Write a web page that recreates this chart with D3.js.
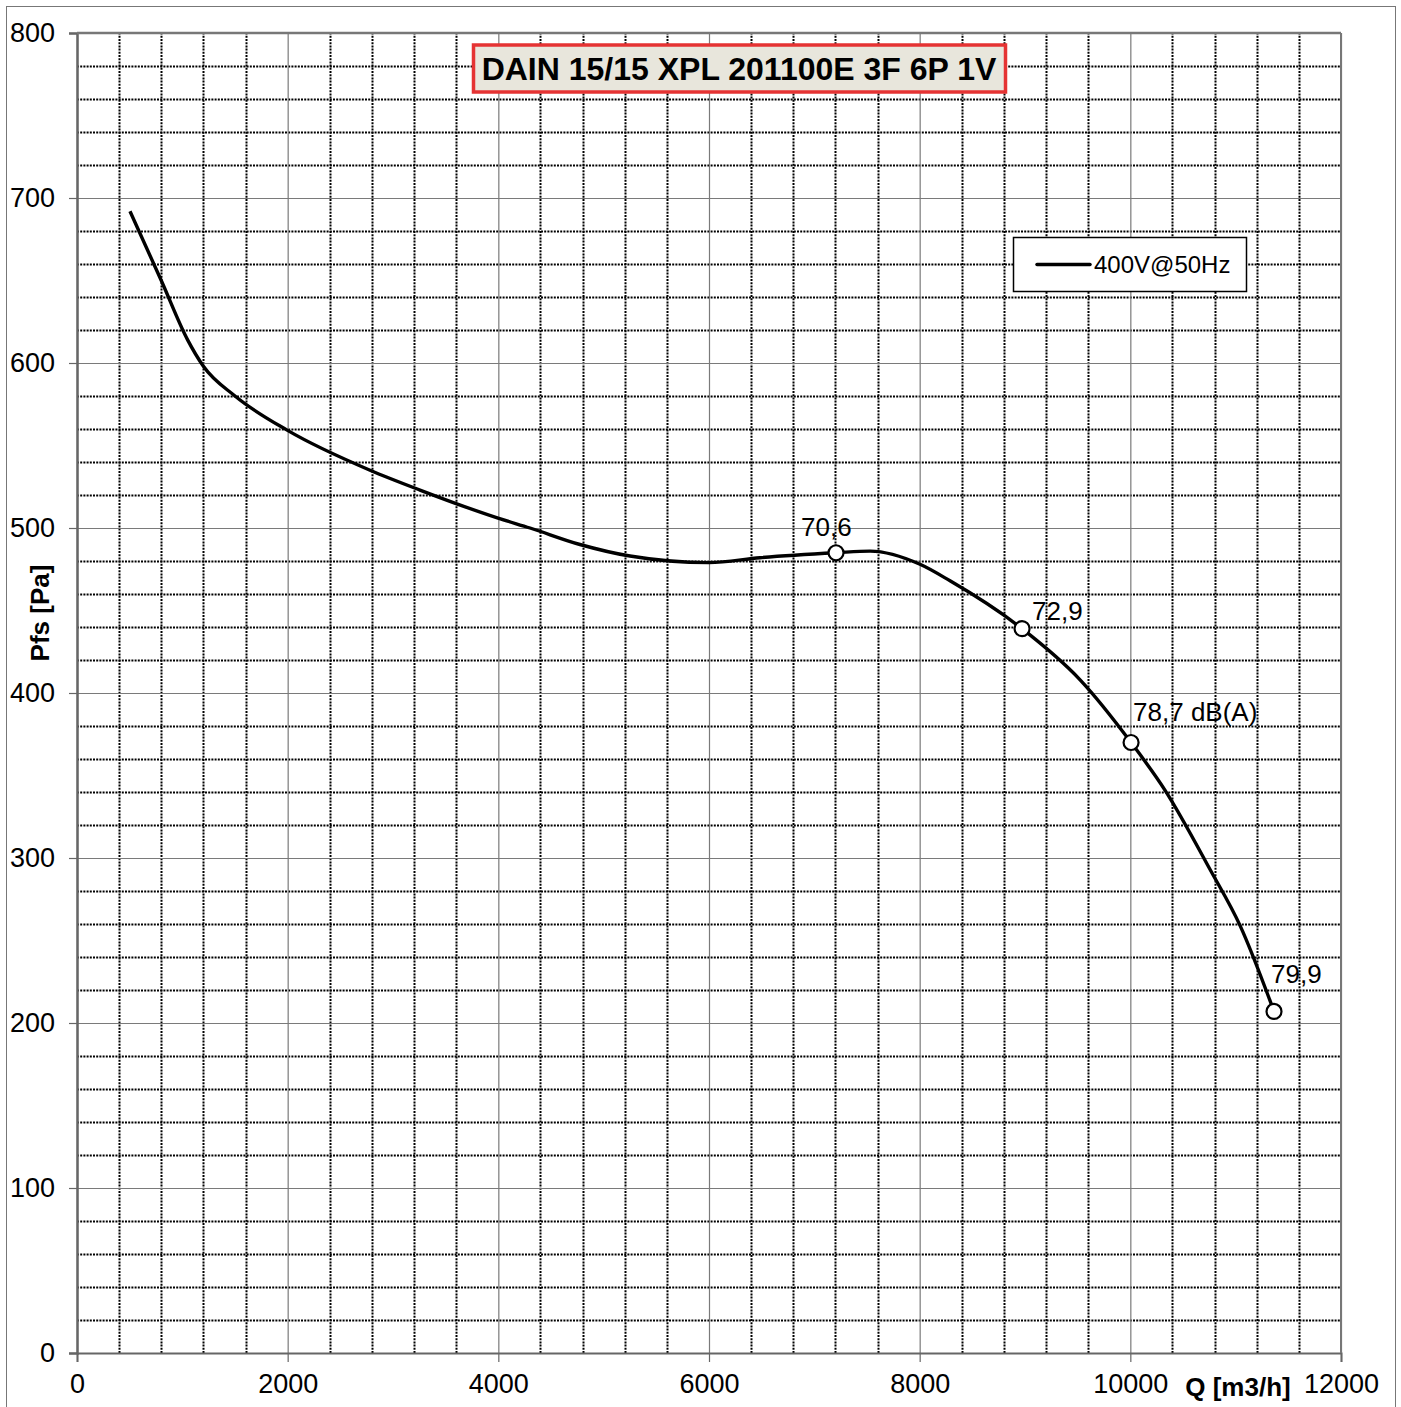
<!DOCTYPE html>
<html>
<head>
<meta charset="utf-8">
<script src="https://cdn.jsdelivr.net/npm/d3@7"></script>
<style>
  body { margin: 0; background: #fff; }
  svg text { font-family: "Liberation Sans", Arial, sans-serif; }
</style>
</head>
<body>
<div id="chart"></div>
<script>
// curve points: flow Q [m3/h] and pressure Pfs [Pa]
const flowQ = [503, 800, 1050, 1200, 1500, 2003, 2782, 3256, 3997, 4301, 4775, 5250, 6000, 6484, 7206, 7529, 8003, 8288, 8972, 9523, 10007, 10330, 10757, 11042, 11364];
const pressure = [692, 650, 614, 598, 580, 559, 535, 523, 506, 500, 490, 483, 479, 482, 485, 486, 478, 468, 439, 408, 370, 341, 293, 259, 207];

// noise markers
const markerQ = [7206, 8972, 10007, 11364];
const markerP = [485, 439, 370, 207];
const markerLabels = ["70,6", "72,9", "78,7 dB(A)", "79,9"];

const xTicks = [0, 2000, 4000, 6000, 8000, 10000, 12000];
const yTicks = [0, 100, 200, 300, 400, 500, 600, 700, 800];
const titleText = "DAIN 15/15 XPL 201100E 3F 6P 1V";
const legendText = "400V@50Hz";

const width = 1401, height = 1407;
const margin = { top: 33, right: 60, bottom: 54, left: 77 };

const svg = d3.select("#chart")
    .append("svg")
    .attr("width", width)
    .attr("height", height);

// outer frame
svg.append("rect")
    .attr("x", 6.5).attr("y", 6.5)
    .attr("width", 1389).attr("height", 1410)
    .attr("fill", "none")
    .attr("stroke", "#777");

const xScale = d3.scaleLinear().domain([0, 12000]).range([margin.left, width - margin.right]);
const yScale = d3.scaleLinear().domain([0, 800]).range([height - margin.bottom, margin.top]);

const plotW = xScale(12000) - xScale(0);
const plotH = yScale(0) - yScale(800);

// minor dotted grid
const minorX = d3.range(400, 12000, 400).filter(v => v % 2000 !== 0);
const minorY = d3.range(20, 800, 20).filter(v => v % 100 !== 0);

svg.append("g")
    .selectAll("line")
    .data(minorY)
    .enter().append("line")
    .attr("x1", xScale(0)).attr("x2", xScale(12000))
    .attr("y1", d => Math.round(yScale(d)) + 0.5)
    .attr("y2", d => Math.round(yScale(d)) + 0.5)
    .attr("stroke", "#000")
    .attr("stroke-width", 2)
    .attr("stroke-dasharray", "2,1.2");

svg.append("g")
    .selectAll("line")
    .data(minorX)
    .enter().append("line")
    .attr("y1", yScale(0)).attr("y2", yScale(800))
    .attr("x1", d => Math.round(xScale(d)) + 0.5)
    .attr("x2", d => Math.round(xScale(d)) + 0.5)
    .attr("stroke", "#000")
    .attr("stroke-width", 2)
    .attr("stroke-dasharray", "2,1.2");

// major solid grid
svg.append("g")
    .attr("transform", `translate(0,${yScale(0)})`)
    .call(d3.axisBottom(xScale).tickValues(xTicks).tickSize(-plotH).tickFormat(""))
    .call(g => g.select(".domain").remove())
    .selectAll("line").attr("stroke", "#7a7a7a").attr("stroke-width", 1.2);

svg.append("g")
    .attr("transform", `translate(${xScale(0)},0)`)
    .call(d3.axisLeft(yScale).tickValues(yTicks).tickSize(-plotW).tickFormat(""))
    .call(g => g.select(".domain").remove())
    .selectAll("line").attr("stroke", "#7a7a7a").attr("stroke-width", 1.2);

// axes with outward ticks
const xAxis = svg.append("g")
    .attr("transform", `translate(0,${yScale(0)})`)
    .call(d3.axisBottom(xScale).tickValues(xTicks).tickSize(9).tickPadding(12).tickFormat(d3.format("d")));
xAxis.select(".domain").attr("stroke", "#666").attr("stroke-width", 2);
xAxis.selectAll("line").attr("stroke", "#666").attr("stroke-width", 1.2);
xAxis.selectAll("text").attr("font-size", 27).attr("fill", "#000");

const yAxis = svg.append("g")
    .attr("transform", `translate(${xScale(0)},0)`)
    .call(d3.axisLeft(yScale).tickValues(yTicks).tickSize(8).tickPadding(14).tickFormat(d3.format("d")));
yAxis.select(".domain").attr("stroke", "#666").attr("stroke-width", 2.5);
yAxis.selectAll("line").attr("stroke", "#666").attr("stroke-width", 1.2);
yAxis.selectAll("text").attr("font-size", 27).attr("fill", "#000");

// top and right plot border
svg.append("line")
    .attr("x1", xScale(0)).attr("x2", xScale(12000))
    .attr("y1", yScale(800)).attr("y2", yScale(800))
    .attr("stroke", "#777").attr("stroke-width", 2.5);
svg.append("line")
    .attr("x1", xScale(12000)).attr("x2", xScale(12000))
    .attr("y1", yScale(800)).attr("y2", yScale(0))
    .attr("stroke", "#777").attr("stroke-width", 2);

// axis titles
svg.append("text")
    .attr("transform", `translate(49,${(yScale(0) + yScale(800)) / 2 - 80}) rotate(-90)`)
    .attr("text-anchor", "middle")
    .attr("font-size", 26)
    .attr("font-weight", "bold")
    .text("Pfs [Pa]");

svg.append("text")
    .attr("x", 1238).attr("y", 1396)
    .attr("text-anchor", "middle")
    .attr("font-size", 26)
    .attr("font-weight", "bold")
    .text("Q [m3/h]");

// the curve
const data = flowQ.map((q, i) => ({ q: q, p: pressure[i] }));
const line = d3.line()
    .x(d => xScale(d.q))
    .y(d => yScale(d.p))
    .curve(d3.curveMonotoneX);

svg.append("path")
    .datum(data)
    .attr("d", line)
    .attr("fill", "none")
    .attr("stroke", "#000")
    .attr("stroke-width", 3.4)
    .attr("stroke-linejoin", "round");

// markers and labels
const marks = markerQ.map((q, i) => ({ q: q, p: markerP[i], label: markerLabels[i] }));
svg.selectAll(".mark")
    .data(marks)
    .enter().append("circle")
    .attr("cx", d => xScale(d.q))
    .attr("cy", d => yScale(d.p))
    .attr("r", 7.5)
    .attr("fill", "#fff")
    .attr("stroke", "#000")
    .attr("stroke-width", 2.2);

const labelDx = [-35, 10, 2, -3];
const labelDy = [-17, -9, -22, -28];
svg.selectAll(".lbl")
    .data(marks)
    .enter().append("text")
    .attr("x", (d, i) => xScale(d.q) + labelDx[i])
    .attr("y", (d, i) => yScale(d.p) + labelDy[i])
    .attr("font-size", 26)
    .text(d => d.label);

// title box
svg.append("rect")
    .attr("x", 473.5).attr("y", 45)
    .attr("width", 532).attr("height", 47)
    .attr("fill", "#e8e6dc")
    .attr("stroke", "#e53333")
    .attr("stroke-width", 3.5);
svg.append("text")
    .attr("x", 739).attr("y", 80)
    .attr("text-anchor", "middle")
    .attr("font-size", 32)
    .attr("font-weight", "bold")
    .text(titleText);

// legend
svg.append("rect")
    .attr("x", 1013.5).attr("y", 237.5)
    .attr("width", 233).attr("height", 54)
    .attr("fill", "#fff")
    .attr("stroke", "#000")
    .attr("stroke-width", 1.5);
svg.append("line")
    .attr("x1", 1037).attr("x2", 1090)
    .attr("y1", 264.5).attr("y2", 264.5)
    .attr("stroke", "#000").attr("stroke-width", 3.5)
    .attr("stroke-linecap", "round");
svg.append("text")
    .attr("x", 1094).attr("y", 273)
    .attr("font-size", 24)
    .text(legendText);
</script>
</body>
</html>
